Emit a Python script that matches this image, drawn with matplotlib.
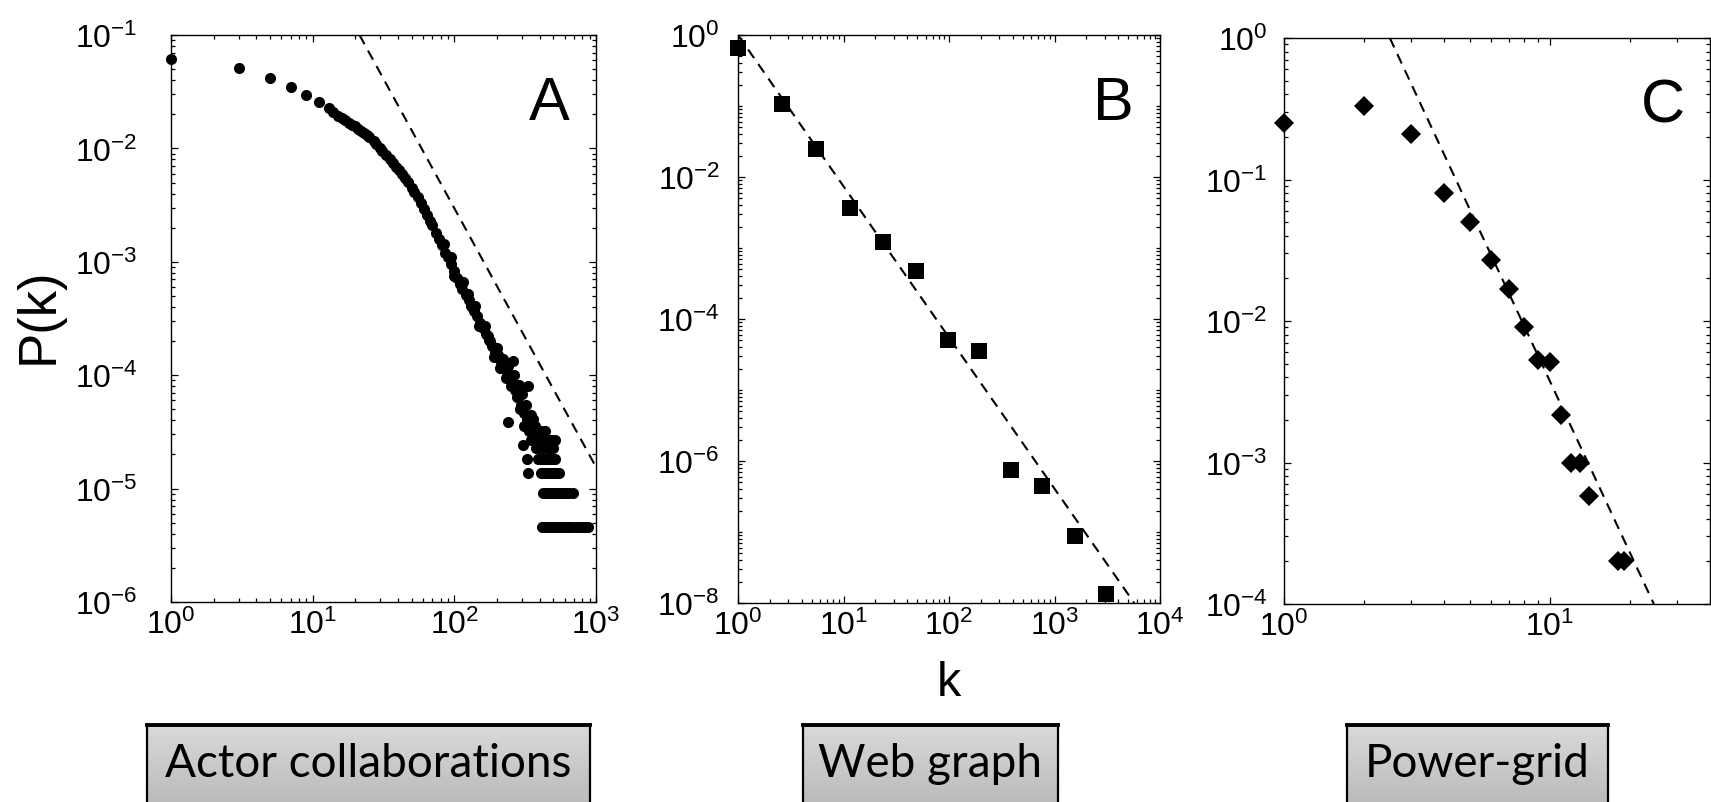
import numpy as np
import matplotlib
matplotlib.use("Agg")
import matplotlib.pyplot as plt
from matplotlib.ticker import LogLocator, LogFormatterSciNotation, NullFormatter

plt.rcParams["font.family"] = ["Liberation Sans", "DejaVu Sans"]
plt.rcParams["mathtext.fontset"] = "custom"
plt.rcParams["mathtext.rm"] = "Liberation Sans"
plt.rcParams["mathtext.it"] = "Liberation Sans:italic"
plt.rcParams["mathtext.bf"] = "Liberation Sans:bold"

# --- A: actor collaborations ---
actor_k_core = [1, 3, 5, 7, 9, 11, 13, 14, 15, 16, 17, 18, 19, 20, 21, 22, 23, 24, 25,
                27, 28, 30, 31, 33, 35, 37, 39, 41, 43, 45, 47, 50, 52, 55, 58, 61, 64,
                67, 70, 74, 78, 82, 86, 90, 94, 99, 104, 109, 114, 120, 126, 132, 138,
                145, 152, 160, 168, 176, 185, 194, 203, 213, 224, 235, 246, 258, 270,
                283, 297, 311, 326, 342, 358, 375, 393]
actor_p_core = [0.061, 0.0507, 0.0415, 0.0346, 0.0297, 0.0257, 0.0226, 0.0209, 0.0195,
                0.0185, 0.0177, 0.0169, 0.0162, 0.0156, 0.0149, 0.0143, 0.0137, 0.0131,
                0.0126, 0.0116, 0.0110, 0.0100, 0.0095, 0.0087, 0.0080, 0.0074, 0.0069,
                0.0064, 0.0060, 0.0055, 0.0051, 0.0045, 0.0041, 0.0037, 0.0033, 0.0029,
                0.0026, 0.0023, 0.0021, 0.0018, 0.0016, 0.0014, 0.0012, 0.0011, 9.6e-4,
                8.3e-4, 7.2e-4, 6.4e-4, 5.7e-4, 5.1e-4, 4.6e-4, 4.1e-4, 3.7e-4, 3.3e-4,
                2.9e-4, 2.6e-4, 2.3e-4, 2.05e-4, 1.8e-4, 1.6e-4, 1.5e-4, 1.3e-4, 1.2e-4,
                1.06e-4, 9.6e-5, 8.6e-5, 7.4e-5, 6.4e-5, 5.5e-5, 4.6e-5, 4.1e-5, 3.6e-5,
                3.2e-5, 2.7e-5, 2.3e-5]
actor_k_spread = [85, 95, 100, 115, 125, 135, 140, 150, 165, 172, 180, 190, 200, 210, 220,
                  230, 240, 250, 259, 265, 275, 285, 290, 300, 305, 239, 330, 310, 320,
                  335, 345, 350, 360, 370, 380, 390, 400, 410, 420, 430, 440, 450, 460,
                  470, 480, 490, 500, 512]
actor_p_spread = [1.45e-3, 1.1e-3, 7.5e-4, 6.6e-4, 5.2e-4, 3.9e-4, 4.1e-4, 2.7e-4, 2.7e-4,
                  2.2e-4, 2.0e-4, 1.45e-4, 1.75e-4, 1.15e-4, 1.4e-4, 9.5e-5, 1.2e-4,
                  8.0e-5, 1.33e-4, 1.0e-4, 6.4e-5, 8.2e-5, 5.0e-5, 6.8e-5, 2.4e-5, 3.9e-5,
                  8.0e-5, 3.6e-5, 5.5e-5, 3.2e-5, 4.5e-5, 2.7e-5, 4.1e-5, 3.6e-5, 2.3e-5,
                  3.2e-5, 2.7e-5, 3.2e-5, 2.3e-5, 2.7e-5, 3.2e-5, 2.3e-5, 2.7e-5, 2.3e-5,
                  2.7e-5, 2.3e-5, 2.3e-5, 2.7e-5]
# the flat rows at the bottom (a few actors per degree)
actor_floor_p = [1.82e-5, 1.37e-5, 9.1e-6, 4.55e-6]
actor_floor_k = [
    [325, 389, 405, 420, 437, 455, 473, 492, 512],
    [331, 408, 425, 443, 462, 481, 502, 524, 547],
    [420, 440, 462, 485, 509, 534, 560, 588, 617, 650, 687],
    [415, 435, 457, 480, 504, 530, 557, 585, 615, 647, 681, 717, 755, 795, 836, 877],
]
actor_fit_k = [21.4, 1000]
actor_fit_p = [0.1, 1.55e-5]

# --- B: web graph ---
web_k = [1, 2.6, 5.5, 11.6, 23.7, 48.5, 97, 194, 390, 767, 1560, 3110]
web_p = [0.65, 0.108, 0.0248, 0.0037, 0.00121, 0.00047, 5.0e-5, 3.5e-5, 7.4e-7,
         4.5e-7, 8.7e-8, 1.35e-8]
web_fit_k = [1, 5700]
web_fit_p = [1.0, 1e-8]

# --- C: power grid ---
power_k = [1, 2, 3, 4, 5, 6, 7, 8, 9, 10, 11, 12, 13, 14, 18, 19]
power_p = [0.25, 0.33, 0.21, 0.08, 0.05, 0.027, 0.0167, 0.0091, 0.0053, 0.0051,
           0.00215, 0.00099, 0.00099, 0.00058, 0.0002, 0.0002]
power_fit_k = [2.5, 24.6]
power_fit_p = [1.0, 1e-4]

panel_letters = ["A", "B", "C"]
box_labels = ["Actor collaborations", "Web graph", "Power-grid"]

W, H = 1711, 803
fig = plt.figure(figsize=(W / 100, H / 100), dpi=100)


def px_axes(left, top, right, bottom):
    return fig.add_axes([left / W, 1 - bottom / H, (right - left) / W, (bottom - top) / H])


def style(ax, ypad):
    ax.set_xscale("log")
    ax.set_yscale("log")
    for s in ax.spines.values():
        s.set_linewidth(1.0)
    ax.tick_params(which="both", direction="in", top=True, right=True, width=0.9)
    ax.tick_params(which="major", length=5)
    ax.tick_params(which="minor", length=3)
    ax.tick_params(axis="y", which="major", pad=ypad, labelsize=23)
    ax.tick_params(axis="x", which="major", pad=5, labelsize=23)
    ax.xaxis.set_minor_locator(LogLocator(base=10, subs=np.arange(1, 10), numticks=60))
    ax.yaxis.set_minor_locator(LogLocator(base=10, subs=np.arange(1, 10), numticks=60))
    ax.xaxis.set_minor_formatter(NullFormatter())
    ax.yaxis.set_minor_formatter(NullFormatter())
    ax.xaxis.set_major_formatter(LogFormatterSciNotation())
    ax.yaxis.set_major_formatter(LogFormatterSciNotation())


dash = dict(color="black", lw=1.5, linestyle=(0, (5, 3.5)))

# panel A
axA = px_axes(171, 36, 596, 603)
style(axA, 24)
axA.plot(actor_fit_k, actor_fit_p, **dash)
axA.plot(actor_k_core, actor_p_core, "o", color="black", ms=8, mew=0, clip_on=False)
axA.plot(actor_k_spread, actor_p_spread, "o", color="black", ms=8, mew=0)
for lev, ks in zip(actor_floor_p, actor_floor_k):
    axA.plot(ks, [lev] * len(ks), "o", color="black", ms=8, mew=0)
axA.set_xlim(1, 1000)
axA.set_ylim(1e-6, 1e-1)
axA.set_xticks([1, 10, 100, 1000])
axA.set_yticks([1e-6, 1e-5, 1e-4, 1e-3, 1e-2, 1e-1])

# panel B
axB = px_axes(738, 36, 1160, 604)
style(axB, 13)
axB.plot(web_fit_k, web_fit_p, **dash)
axB.plot(web_k, web_p, "s", color="black", ms=12, mew=0, clip_on=False)
axB.set_xlim(1, 1e4)
axB.set_ylim(1e-8, 1)
axB.set_xticks([1, 10, 100, 1000, 1e4])
axB.set_yticks([1e-8, 1e-6, 1e-4, 1e-2, 1])

# panel C
axC = px_axes(1284, 39, 1710, 605)
style(axC, 12)
axC.plot(power_fit_k, power_fit_p, **dash)
axC.plot(power_k, power_p, "D", color="black", ms=10.5, mew=0, clip_on=False)
axC.set_xlim(1, 40)
axC.set_ylim(1e-4, 1)
axC.set_xticks([1, 10])
axC.set_yticks([1e-4, 1e-3, 1e-2, 1e-1, 1])

for ax, letter in zip([axA, axB, axC], panel_letters):
    ax.text(0.89, 0.88, letter, transform=ax.transAxes, ha="center", va="center",
            fontsize=44)

fig.text(39 / W, 1 - 316 / H, "P(k)", rotation=90, ha="center", va="center", fontsize=38)
fig.text(949 / W, 1 - 684 / H, "k", ha="center", va="center", fontsize=35)

# grey caption boxes under the panels
box_spans = [(147, 590), (803, 1058), (1347, 1608)]
grad = np.linspace(0, 1, 100).reshape(-1, 1)
for (x0, x1), label in zip(box_spans, box_labels):
    bx = px_axes(x0, 726, x1, 830)
    bx.imshow(grad, aspect="auto", cmap="Greys", vmin=-1.4, vmax=4.2,
              extent=[0, 1, 0, 1], origin="upper")
    bx.set_xticks([])
    bx.set_yticks([])
    for s in bx.spines.values():
        s.set_linewidth(1.6)
    bx.spines["top"].set_linewidth(2.8)
    fig.text((x0 + x1) / 2 / W, 1 - 777 / H, label, ha="center", va="baseline",
             fontsize=33, family=["Lato", "DejaVu Sans"])

fig.savefig("out.png", dpi=100)
